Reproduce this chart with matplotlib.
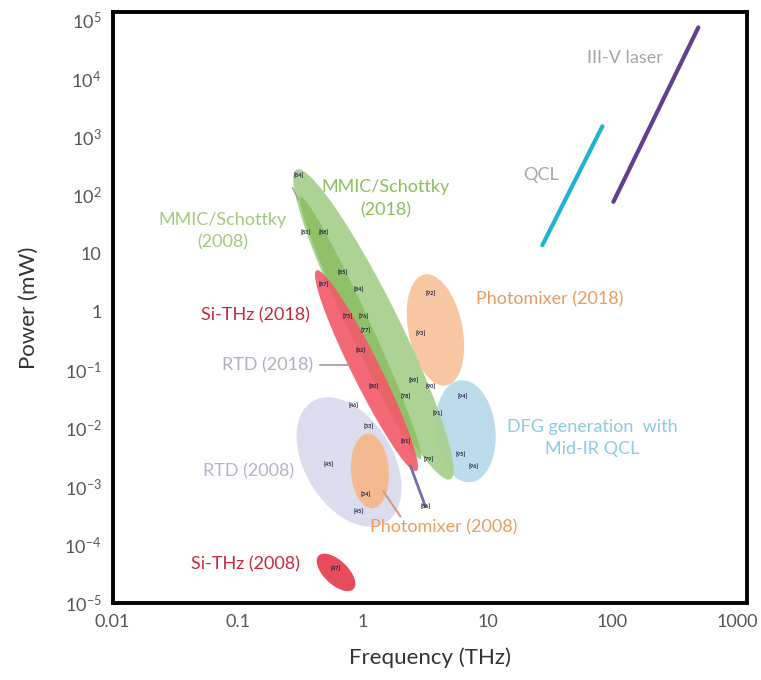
import numpy as np
import matplotlib
matplotlib.use("Agg")
import matplotlib.pyplot as plt

plt.rcParams['font.family'] = ['Lato', 'DejaVu Sans']
plt.rcParams['mathtext.fontset'] = 'custom'
plt.rcParams['mathtext.rm'] = 'Lato'

# ---------------- data ----------------
x_ticks = [0.01, 0.1, 1, 10, 100, 1000]
x_tick_labels = ['0.01', '0.1', '1', '10', '100', '1000']
y_ticks = [1e-5, 1e-4, 1e-3, 1e-2, 1e-1, 1, 10, 1e2, 1e3, 1e4, 1e5]
y_tick_labels = [r'$\mathregular{10^{-5}}$', r'$\mathregular{10^{-4}}$', r'$\mathregular{10^{-3}}$',
                 r'$\mathregular{10^{-2}}$', r'$\mathregular{10^{-1}}$', '1', '10',
                 r'$\mathregular{10^{2}}$', r'$\mathregular{10^{3}}$', r'$\mathregular{10^{4}}$',
                 r'$\mathregular{10^{5}}$']

# technology regions: major-axis end points (THz, mW)
region_names = ['RTD (2008)', 'Photomixer (2008)', 'DFG', 'Photomixer (2018)',
                'MMIC/Schottky (2018)', 'MMIC/Schottky (2008)', 'Si-THz (2018)', 'Si-THz (2008)']
region_f1 = [0.398, 1.096, 6.08, 3.13, 0.296, 0.319, 0.4285, 0.445]
region_p1 = [0.0289, 8.07e-3, 0.0667, 4.36, 275, 93.8, 5.12, 6.5e-5]
region_f2 = [1.53, 1.20, 7.31, 4.70, 5.06, 2.91, 2.70, 0.847]
region_p2 = [2.42e-4, 4.23e-4, 1.19e-3, 0.0546, 1.34e-3, 2.98e-3, 1.85e-3, 1.75e-5]

# laser lines (THz, mW)
qcl_f = [27.5, 83.2]
qcl_p = [13.9, 1524]
iiiv_f = [101.9, 487.5]
iiiv_p = [76.9, 7.57e4]
rtd18_f = [2.42, 3.19]
rtd18_p = [2.25e-3, 4.58e-4]

# reference tags (THz, mW)
ref_tags = ['[84]', '[83]', '[88]', '[85]', '[87]', '[84]', '[75]', '[76]', '[77]', '[82]',
            '[80]', '[89]', '[90]', '[78]', '[91]', '[81]', '[79]', '[92]', '[93]',
            '[94]', '[95]', '[96]', '[46]', '[45]', '[45]', '[33]', '[34]', '[86]', '[47]']
ref_f = [0.308, 0.350, 0.488, 0.692, 0.488, 0.929, 0.759, 1.02, 1.06, 0.964,
         1.22, 2.56, 3.50, 2.21, 3.98, 2.21, 3.37, 3.50, 2.91,
         6.31, 6.08, 7.73, 0.85, 0.535, 0.929, 1.117, 1.06, 3.19, 0.608]
ref_p = [225, 23.3, 23.3, 4.73, 2.93, 2.40, 0.853, 0.853, 0.489, 0.220,
         0.0525, 0.0667, 0.0525, 0.0352, 0.0179, 6.1e-3, 2.98e-3, 2.13, 0.434,
         0.0352, 3.64e-3, 2.25e-3, 0.0246, 2.44e-3, 3.75e-4, 0.0107, 7.4e-4, 4.58e-4, 4.04e-5]

# ---------------- style ----------------
region_minor_px = [88, 38, 60, 54, 50, 22, 28, 24]
region_colors = ['#dcdcef', '#f5b98c', '#bcdcec', '#f9c6a2', '#a9d18e', '#86bd5a', '#f25c6a', '#e64c5c']
region_alpha = [1.0, 0.95, 1.0, 1.0, 0.95, 0.75, 0.92, 1.0]

fig = plt.figure(figsize=(7.61, 6.80), dpi=100)
ax = fig.add_axes([0.148, 0.113, 0.834, 0.869])
ax.set_xscale('log')
ax.set_yscale('log')
ax.set_xlim(0.01, 10 ** 3.08)
ax.set_ylim(1e-5, 10 ** 5.14)


def blob(f1, p1, f2, p2, minor, **kw):
    a = ax.transData.transform((f1, p1))
    b = ax.transData.transform((f2, p2))
    c = (a + b) / 2
    d = b - a
    L = np.hypot(*d) / 2
    u = d / np.hypot(*d)
    v = np.array([-u[1], u[0]])
    t = np.linspace(0, 2 * np.pi, 200)
    pts = c + np.outer(L * np.cos(t), u) + np.outer(minor / 2 * np.sin(t), v)
    data = ax.transData.inverted().transform(pts)
    ax.fill(data[:, 0], data[:, 1], lw=0, **kw)


for i in range(len(region_names)):
    blob(region_f1[i], region_p1[i], region_f2[i], region_p2[i], region_minor_px[i],
         color=region_colors[i], alpha=region_alpha[i], zorder=2 + i * 0.1)

ax.plot(qcl_f, qcl_p, color='#1fb4cf', lw=3, solid_capstyle='round', zorder=4)
ax.plot(iiiv_f, iiiv_p, color='#63408f', lw=3, solid_capstyle='round', zorder=4)
ax.plot(rtd18_f, rtd18_p, color='#7272a8', lw=2, zorder=4)
ax.plot([1.47, 2.01], [8.3e-4, 3.08e-4], color='#d49a8a', lw=1.5, zorder=4)
ax.plot([0.461, 0.773], [0.121, 0.121], color='#9a9aa8', lw=1.2, zorder=4)
ax.plot([0.275, 0.308], [134, 83], color='#a0a0a0', lw=1, zorder=4)

for tag, f, p in zip(ref_tags, ref_f, ref_p):
    ax.text(f, p, tag, fontsize=4, color='#1c1c44', fontweight='bold',
            ha='center', va='center', zorder=6)

fs = 13
labels = [
    ('III-V laser', 127, 2.29e4, '#a6a6a6'),
    ('QCL', 27.0, 225, '#a6a6a6'),
    ('MMIC/Schottky\n(2018)', 1.53, 86.8, '#8dbf5c'),
    ('MMIC/Schottky\n(2008)', 0.0759, 24.2, '#a3c97c'),
    ('Photomixer (2018)', 31.3, 1.61, '#e89d62'),
    ('Si-THz (2018)', 0.139, 0.853, '#c8283e'),
    ('RTD (2018)', 0.174, 0.121, '#b0b0c4'),
    ('DFG generation  with\nMid-IR QCL', 69.2, 6.87e-3, '#8ccbe2'),
    ('RTD (2008)', 0.1225, 1.85e-3, '#b4b4c8'),
    ('Photomixer (2008)', 4.45, 1.99e-4, '#e8a060'),
    ('Si-THz (2008)', 0.116, 4.54e-5, '#c8283e'),
]
for txt, f, p, col in labels:
    ax.text(f, p, txt, fontsize=fs, color=col, ha='center', va='center',
            linespacing=1.5, zorder=7)

ax.set_xticks(x_ticks)
ax.set_xticklabels(x_tick_labels)
ax.set_yticks(y_ticks)
ax.set_yticklabels(y_tick_labels)
ax.minorticks_off()
ax.tick_params(length=0, labelsize=13, labelcolor='#555555', pad=8)
for s in ax.spines.values():
    s.set_linewidth(2.8)
    s.set_color('black')

ax.set_xlabel('Frequency (THz)', fontsize=16, color='#333333', labelpad=12)
ax.set_ylabel('Power (mW)', fontsize=16, color='#333333', labelpad=18)

fig.savefig('out.png', dpi=100)
